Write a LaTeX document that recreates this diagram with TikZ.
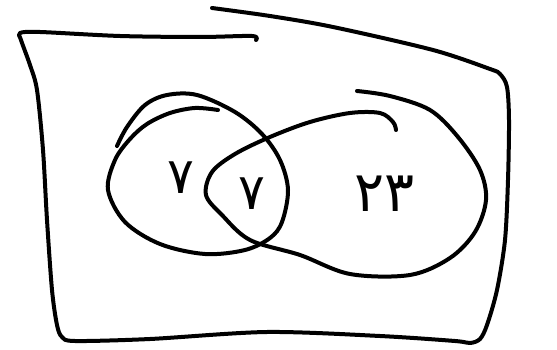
\documentclass[tikz,border=0pt]{standalone}
\usepackage{fontspec}
\newfontfamily\pdigits{DejaVu Sans}
\begin{document}
\begin{tikzpicture}[x=1pt,y=-1pt,
  ink/.style={line width=4pt,line cap=round,line join=round},
  digit/.style={font=\pdigits\fontsize{50}{54}\selectfont,inner sep=0pt}]
\useasboundingbox (0,0) rectangle (557,350);
% outer frame
\draw[ink] plot[smooth,tension=0.5] coordinates {(256,40) (252,36) (200,37) (120,36) (40,32) (20,33) (21,40) (30,65) (37,90) (43,150) (47,220) (52,290) (57,325) (62,337) (75,341) (150,339) (267,332) (380,336) (455,341) (470,343) (480,339) (487,325) (497,290) (505,240) (508,180) (509,120) (507,87) (500,74) (490,69) (433,50) (333,27) (270,16) (212,8)};
% left set
\draw[ink] plot[smooth,tension=0.55] coordinates {(117,146) (127,127) (145,105) (167,95) (197,95) (235,112) (262,134) (280,160) (288,190) (282,222) (270,238) (245,250) (205,254) (160,244) (125,222) (108,190) (115,160) (130,139) (147,124) (170,113) (195,108) (218,110)};
% right set
\draw[ink] plot[smooth,tension=0.55] coordinates {(357,91) (390,96) (430,110) (458,137) (480,170) (486,200) (475,232) (450,258) (410,275) (350,274) (300,255) (250,240) (222,215) (206,195) (212,172) (235,154) (270,137) (310,122) (350,113) (380,113) (393,122) (396,130)};
\node[digit] (a) at (181,178) {۷};
\node[digit] (b) at (252,194) {۷};
\node[digit,font=\pdigits\fontsize{56}{60}\selectfont] (c) at (385,194) {۲۳};
\end{tikzpicture}
\end{document}
